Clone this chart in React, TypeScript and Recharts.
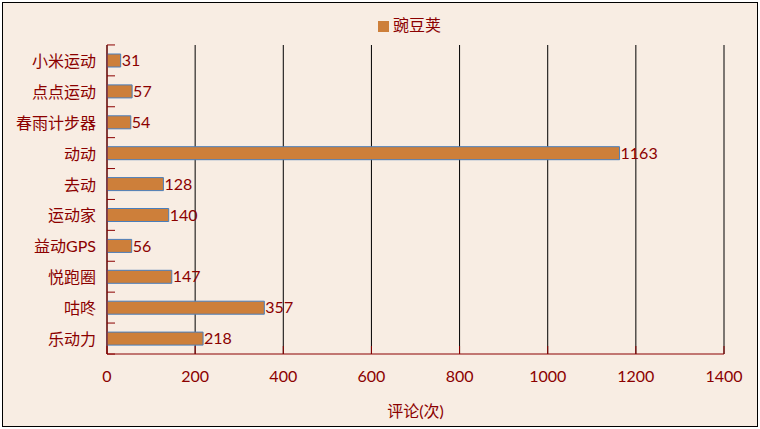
import React from 'react';
import { BarChart, Bar, XAxis, YAxis, CartesianGrid, Legend, LabelList } from 'recharts';

const apps = ['小米运动', '点点运动', '春雨计步器', '动动', '去动', '运动家', '益动GPS', '悦跑圈', '咕咚', '乐动力'];
const reviews = [31, 57, 54, 1163, 128, 140, 56, 147, 357, 218];
const xTicks = [0, 200, 400, 600, 800, 1000, 1200, 1400];
const seriesName = '豌豆荚';
const axisTitle = '评论(次)';

const data = apps.map((name, i) => ({ name, value: reviews[i] }));

const RED = '#8B0000';
const FONT = "Lato, 'Noto Sans CJK SC', sans-serif";
const BAND = 31; // plot height 310 / 10 categories

const YTick = (props: any) => {
  const { x, y, payload, index } = props;
  return (
    <g>
      <line x1={x} x2={x + 8} y1={y - BAND / 2} y2={y - BAND / 2} stroke={RED} />
      {index === apps.length - 1 && (
        <line x1={x} x2={x + 8} y1={y + BAND / 2} y2={y + BAND / 2} stroke={RED} />
      )}
      <text x={x - 11} y={y} textAnchor="end" dominantBaseline="central" fill={RED} fontSize={16} fontFamily={FONT}>
        {payload.value}
      </text>
    </g>
  );
};

const XTick = (props: any) => {
  const { x, y, payload } = props;
  return (
    <g>
      <line x1={x} x2={x} y1={y} y2={y - 8} stroke={RED} />
      <text x={x} y={y + 21} textAnchor="middle" dominantBaseline="central" fill={RED} fontSize={16} fontFamily={FONT}>
        {payload.value}
      </text>
    </g>
  );
};

const App: React.FC = () => {
  return (
    <div style={{ position: 'fixed', left: 0, top: 0, width: 760, height: 429, background: '#fff' }}>
      <div
        style={{
          position: 'absolute',
          left: 2,
          top: 2,
          width: 754,
          height: 423,
          border: '1px solid #000',
          background: '#F8EDE3',
        }}
      />
      <div style={{ position: 'absolute', left: 0, top: 0 }}>
        <BarChart
          width={760}
          height={429}
          data={data}
          layout="vertical"
          margin={{ top: 21, right: 36, bottom: 10, left: 7 }}
        >
          <CartesianGrid horizontal={false} stroke="#000" />
          <XAxis
            type="number"
            domain={[0, 1400]}
            ticks={xTicks}
            stroke={RED}
            tickLine={false}
            tickSize={0}
            tickMargin={0}
            tick={<XTick />}
            height={65}
            label={{ value: axisTitle, position: 'insideBottom', offset: 2, fill: RED, fontSize: 16, fontFamily: FONT }}
          />
          <YAxis
            type="category"
            dataKey="name"
            width={100}
            stroke={RED}
            tickLine={false}
            tickSize={0}
            tickMargin={0}
            tick={<YTick />}
            interval={0}
          />
          <Legend
            verticalAlign="top"
            align="left"
            iconType="square"
            iconSize={11}
            wrapperStyle={{ top: 12, left: 378, width: 'auto', fontFamily: FONT, fontSize: 16 }}
            formatter={(v: string) => <span style={{ color: RED }}>{v}</span>}
          />
          <Bar
            dataKey="value"
            name={seriesName}
            fill="#CD7F3A"
            stroke="#4A7EBB"
            strokeWidth={1}
            barSize={13}
            isAnimationActive={false}
          >
            <LabelList dataKey="value" position="right" offset={1} fill={RED} fontSize={16} fontFamily={FONT} />
          </Bar>
        </BarChart>
      </div>
    </div>
  );
};

export default App;
